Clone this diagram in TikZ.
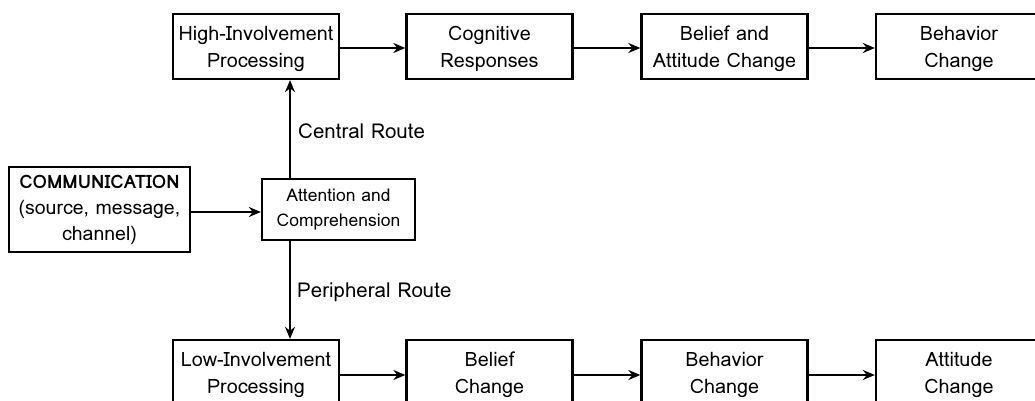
\documentclass[tikz,border=0pt]{standalone}
\usepackage{fontspec}
\setmainfont{Loma}
\usetikzlibrary{arrows.meta}
\begin{document}
\begin{tikzpicture}[x=1pt,y=-1pt,
  box/.style={draw,line width=2.3pt,minimum width=166pt,minimum height=65pt,inner sep=0pt,align=center,font=\fontsize{19.8}{27.5}\selectfont},
  arr/.style={-{Stealth[length=12pt,width=10pt]},line width=2.2pt},
  lbl/.style={anchor=west,inner sep=0pt,font=\fontsize{20.5}{24}\selectfont}]
\useasboundingbox (0,0) rectangle (1035,401);
\clip (0,0) rectangle (1035,401);
% top row
\node[box] (hi) at (256,46.5) {\strut High-Involvement\\Processing};
\node[box] (cog) at (489.5,46.5) {\strut Cognitive\\Responses};
\node[box] (bac) at (724.5,46.5) {\strut Belief and\\Attitude Change};
\node[box] (bc) at (959,46.5) {\strut Behavior\\Change};
% middle
\node[box,minimum width=181pt,minimum height=85pt,font=\fontsize{19.5}{26}\selectfont] (com) at (99.5,209.5) {{\fontsize{18.5}{26}\selectfont\textbf{COMMUNICATION}}\\(source, message,\\channel)};
\node[box,minimum width=153pt,minimum height=61pt,font=\fontsize{17.5}{25}\selectfont] (att) at (338.5,209.5) {Attention and\\Comprehension};
% bottom row
\node[box] (lo) at (256,372.5) {\strut Low-Involvement\\Processing};
\node[box] (bel) at (489.5,372.5) {\strut Belief\\Change};
\node[box] (beh) at (724.5,372.5) {\strut Behavior\\Change};
\node[box] (atc) at (959,372.5) {\strut Attitude\\Change};
% labels
\node[lbl] (cr) at (298,131) {Central Route};
\node[lbl] (pr) at (297,292) {Peripheral Route};
\coordinate (vx) at (290,0);
% connectors
\draw[arr] (hi.east |- 0,48) -- (cog.west |- 0,48);
\draw[arr] (cog.east |- 0,48) -- (bac.west |- 0,48);
\draw[arr] (bac.east |- 0,48) -- (bc.west |- 0,48);
\draw[arr] (lo.east |- 0,375) -- (bel.west |- 0,375);
\draw[arr] (bel.east |- 0,375) -- (beh.west |- 0,375);
\draw[arr] (beh.east |- 0,375) -- (atc.west |- 0,375);
\draw[arr] (com.east |- 0,212) -- (att.west |- 0,212);
\draw[arr] (vx |- att.north) -- (vx |- hi.south);
\draw[arr] (vx |- att.south) -- (vx |- lo.north);
\end{tikzpicture}
\end{document}
